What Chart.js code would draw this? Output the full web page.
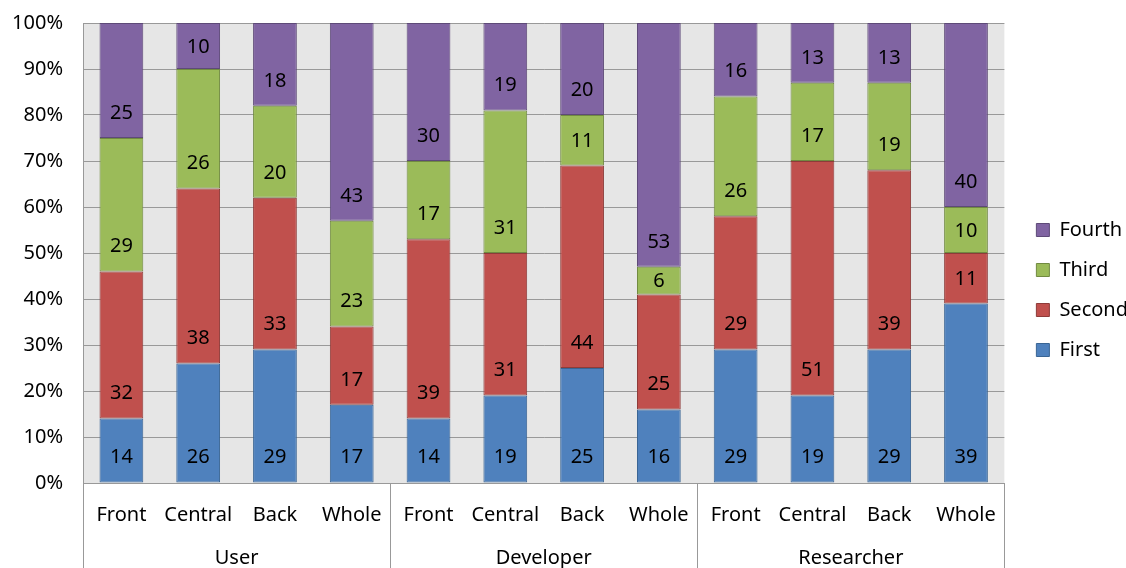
<!DOCTYPE html>
<html>
<head>
<meta charset="utf-8">
<script src="https://cdn.jsdelivr.net/npm/chart.js@4/dist/chart.umd.min.js"></script>
<style>
  html, body { margin: 0; padding: 0; background: #fff; }
  #wrap { width: 1126px; height: 568px; }
</style>
</head>
<body>
<div id="wrap"><canvas id="chart"></canvas></div>
<script>
// Chart data
const categories = ['Front', 'Central', 'Back', 'Whole', 'Front', 'Central', 'Back', 'Whole', 'Front', 'Central', 'Back', 'Whole'];
const groups = ['User', 'Developer', 'Researcher'];
const first = [14, 26, 29, 17, 14, 19, 25, 16, 29, 19, 29, 39];
const second = [32, 38, 33, 17, 39, 31, 44, 25, 29, 51, 39, 11];
const third = [29, 26, 20, 23, 17, 31, 11, 6, 26, 17, 19, 10];
const fourth = [25, 10, 18, 43, 30, 19, 20, 53, 16, 13, 13, 40];
const yTicks = [0, 10, 20, 30, 40, 50, 60, 70, 80, 90, 100];

const FONT = "'Noto Sans', 'DejaVu Sans', sans-serif";
const GRID = '#999999';

// Plot area background
const plotBg = {
    id: 'plotBg',
    beforeDraw(chart) {
        const { ctx, chartArea: a } = chart;
        ctx.save();
        ctx.fillStyle = '#e6e6e6';
        ctx.fillRect(a.left, a.top, a.right - a.left, a.bottom - a.top);
        ctx.restore();
    }
};

// nudge legend a bit, like the original
const legendShift = {
    id: 'legendShift',
    afterLayout(chart) {
        const lg = chart.legend;
        if (lg) {
            lg.left += 12;
            lg.right += 12;
            lg.top += 6;
            lg.bottom += 6;
        }
    }
};

// Numbers inside each segment, near the segment base (Excel "inside base")
const segLabels = {
    id: 'segLabels',
    afterDatasetsDraw(chart) {
        const ctx = chart.ctx;
        ctx.save();
        ctx.font = '20px ' + FONT;
        ctx.fillStyle = '#000';
        ctx.textAlign = 'center';
        ctx.textBaseline = 'middle';
        chart.data.datasets.forEach((ds, i) => {
            chart.getDatasetMeta(i).data.forEach((bar, j) => {
                const p = bar.getProps(['x', 'y', 'base'], true);
                const ly = Math.max(p.base - 26, (p.y + p.base) / 2);
                ctx.fillText(String(ds.data[j]), p.x, ly + 1);
            });
        });
        ctx.restore();
    }
};

// Group labels and separators under the axis
const groupAxis = {
    id: 'groupAxis',
    afterDraw(chart) {
        const { ctx, chartArea: a } = chart;
        const x = chart.scales.x;
        const per = categories.length / groups.length;
        const edges = [a.left];
        for (let g = 1; g < groups.length; g++) {
            edges.push((x.getPixelForValue(g * per - 1) + x.getPixelForValue(g * per)) / 2);
        }
        edges.push(a.right);
        ctx.save();
        ctx.strokeStyle = GRID;
        ctx.lineWidth = 1;
        edges.forEach(e => {
            const px = Math.round(e) + 0.5;
            ctx.beginPath();
            ctx.moveTo(px, a.bottom);
            ctx.lineTo(px, chart.height);
            ctx.stroke();
        });
        ctx.font = '20px ' + FONT;
        ctx.fillStyle = '#000';
        ctx.textAlign = 'center';
        ctx.textBaseline = 'middle';
        groups.forEach((g, i) => {
            ctx.fillText(g, (edges[i] + edges[i + 1]) / 2, a.bottom + 75);
        });
        ctx.restore();
    }
};

const ds = (label, data, bg, border) => ({
    label: label,
    data: data,
    backgroundColor: bg,
    borderColor: border,
    borderWidth: 1,
    borderSkipped: false,
    barPercentage: 0.57,
    categoryPercentage: 1.0
});

new Chart(document.getElementById('chart'), {
    type: 'bar',
    data: {
        labels: categories,
        datasets: [
            ds('First', first, '#4f81bd', '#3a6594'),
            ds('Second', second, '#c0504d', '#8e3b39'),
            ds('Third', third, '#9bbb59', '#718a41'),
            ds('Fourth', fourth, '#8064a2', '#5e4a78')
        ]
    },
    options: {
        responsive: true,
        maintainAspectRatio: false,
        animation: false,
        layout: { padding: 0 },
        plugins: {
            tooltip: { enabled: false },
            legend: {
                position: 'right',
                reverse: true,
                labels: {
                    font: { family: FONT, size: 20 },
                    color: '#000',
                    boxWidth: 13,
                    boxHeight: 13,
                    padding: 20,
                    generateLabels(chart) {
                        return chart.data.datasets.map((d, i) => ({
                            text: d.label,
                            fillStyle: d.backgroundColor,
                            strokeStyle: d.borderColor,
                            lineWidth: 1,
                            datasetIndex: i,
                            hidden: false
                        }));
                    }
                }
            }
        },
        scales: {
            x: {
                stacked: true,
                grid: { display: false, drawTicks: false },
                border: { display: true, color: GRID },
                ticks: { font: { family: FONT, size: 20 }, color: '#000', padding: 20, maxRotation: 0, autoSkip: false },
                afterFit(scale) { scale.height = 85; }
            },
            y: {
                stacked: true,
                min: 0,
                max: 100,
                afterBuildTicks(scale) { scale.ticks = yTicks.map(v => ({ value: v })); },
                grid: { color: GRID, drawTicks: false },
                border: { display: true, color: GRID },
                ticks: {
                    font: { family: FONT, size: 20 },
                    color: '#000',
                    padding: 20,
                    callback: v => v + '%'
                },
                afterFit(scale) {
                    scale.width = 83;
                    scale.paddingTop = 23;
                    scale.paddingBottom = 0;
                }
            }
        }
    },
    plugins: [plotBg, legendShift, segLabels, groupAxis]
});
</script>
</body>
</html>
